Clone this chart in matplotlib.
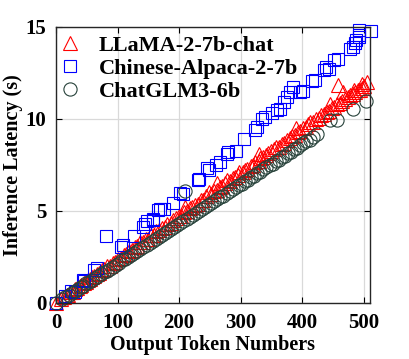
import matplotlib
matplotlib.use("Agg")
import matplotlib.pyplot as plt

# LLaMA-2-7b-chat
llamaX = [0, 8, 12, 17, 20, 24, 27, 31, 34, 38, 41, 45, 48, 52, 55, 59, 62, 66, 70, 74,
          78, 83, 87, 92, 96, 101, 105, 110, 114, 119, 123, 128, 132, 137, 141, 146, 150, 155, 159, 163,
          168, 172, 177, 181, 186, 190, 195, 199, 203, 208, 210, 212, 217, 221, 226, 230, 235, 239, 244, 248,
          252, 257, 261, 262, 266, 270, 274, 278, 283, 287, 291, 295, 298, 303, 307, 311, 316, 320, 324, 329,
          330, 332, 337, 341, 345, 350, 354, 358, 362, 367, 371, 375, 380, 384, 388, 390, 393, 397, 402, 406,
          410, 413, 418, 422, 427, 431, 435, 440, 444, 445, 448, 452, 456, 459, 461, 465, 467, 470, 474, 478,
          482, 485, 486, 490, 494, 497, 498, 501, 505]
llamaY = [0.0, 0.2, 0.3, 0.42, 0.45, 0.6, 0.62, 0.75, 0.8, 0.92, 0.98, 1.1, 1.12, 1.25, 1.3, 1.42, 1.45, 1.6, 1.65, 1.78,
          1.85, 2.0, 2.02, 2.2, 2.25, 2.4, 2.45, 2.6, 2.68, 2.85, 2.9, 3.05, 3.1, 3.3, 3.3, 3.45, 3.5, 3.7, 3.72, 3.9,
          3.95, 4.1, 4.15, 4.3, 4.35, 4.5, 4.6, 4.7, 4.75, 4.95, 5.2, 4.98, 5.15, 5.2, 5.35, 5.4, 5.6, 5.62, 5.8, 6.03,
          5.9, 6.1, 6.15, 6.5, 6.3, 6.35, 6.5, 6.67, 6.65, 6.8, 6.85, 6.95, 7.12, 7.1, 7.25, 7.3, 7.45, 7.5, 7.65, 7.72,
          8.1, 7.9, 7.95, 8.05, 8.15, 8.25, 8.35, 8.45, 8.5, 8.65, 8.72, 8.85, 8.95, 9.05, 9.12, 9.5, 9.3, 9.35, 9.5, 9.55,
          9.7, 9.84, 9.85, 10.0, 10.05, 10.2, 10.25, 10.4, 10.45, 10.8, 10.6, 10.65, 10.8, 11.83, 10.85, 11.0, 11.47, 11.1, 11.2, 11.3,
          11.35, 11.6, 11.45, 11.55, 11.6, 11.9, 11.7, 11.8, 12.0]

# Chinese-Alpaca-2-7b
alpacaX = [0, 15, 24, 30, 43, 46, 61, 67, 81, 105, 109, 127, 141, 144, 147, 157, 158, 166, 169, 175,
           190, 202, 206, 231, 233, 245, 249, 260, 266, 278, 280, 293, 305, 324, 326, 334, 340, 351, 359, 364,
           370, 375, 380, 385, 397, 402, 416, 421, 436, 439, 443, 451, 459, 477, 483, 486, 488, 492, 493, 493, 512]
alpacaY = [0.0, 0.40, 0.64, 0.60, 1.27, 1.20, 1.80, 1.92, 3.66, 3.05, 3.13, 3.62, 4.13, 4.31, 4.46, 4.57, 4.53, 5.04, 5.08, 5.08,
           5.43, 5.98, 5.91, 6.67, 6.72, 7.34, 7.21, 7.48, 7.66, 8.10, 8.20, 8.24, 8.90, 9.42, 9.57, 10.0, 10.1, 10.3, 10.47, 10.56,
           10.9, 11.2, 11.47, 11.74, 11.47, 11.5, 12.05, 12.1, 12.65, 12.8, 12.7, 13.19, 13.24, 13.8, 13.9, 14.1, 14.3, 14.46, 14.55, 14.86, 14.77]

# ChatGLM3-6b
glmX = [0, 10, 15, 21, 26, 30, 35, 40, 44, 49, 54, 58, 63, 68, 73, 77, 82, 87, 92, 97,
        102, 107, 112, 117, 122, 127, 132, 137, 142, 147, 152, 157, 162, 167, 172, 177, 182, 187, 192, 197,
        202, 207, 210, 212, 217, 222, 227, 232, 237, 242, 247, 252, 257, 262, 267, 272, 277, 282, 287, 292,
        297, 302, 307, 312, 317, 322, 327, 332, 337, 342, 347, 352, 357, 362, 367, 372, 377, 382, 387, 392,
        397, 402, 407, 412, 418, 424, 446, 456, 483, 504]
glmY = [0.0, 0.22, 0.3, 0.46, 0.55, 0.64, 0.74, 0.86, 0.94, 1.06, 1.14, 1.26, 1.34, 1.46, 1.55, 1.66, 1.74, 1.86, 1.97, 2.09,
        2.17, 2.31, 2.39, 2.51, 2.61, 2.73, 2.81, 2.96, 3.04, 3.16, 3.27, 3.39, 3.47, 3.61, 3.69, 3.81, 3.91, 4.03, 4.11, 4.26,
        4.34, 4.46, 6.07, 4.54, 4.69, 4.77, 4.89, 4.99, 5.11, 5.19, 5.33, 5.41, 5.53, 5.64, 5.76, 5.84, 5.99, 6.07, 6.19, 6.29,
        6.41, 6.49, 6.61, 6.71, 6.83, 6.91, 7.06, 7.14, 7.26, 7.37, 7.49, 7.57, 7.71, 7.79, 7.91, 8.01, 8.13, 8.21, 8.36, 8.44,
        8.56, 8.67, 8.79, 8.87, 9.01, 9.2, 9.97, 9.97, 10.56, 11.0]

plt.rcParams["font.family"] = ["Liberation Serif", "DejaVu Serif"]
plt.rcParams["font.weight"] = "bold"

fig = plt.figure(figsize=(4.10, 3.59), dpi=100)
ax = fig.add_axes([0.137, 0.156, 0.765, 0.769])

mk = dict(linestyle="none", markerfacecolor="none", markeredgewidth=0.8, clip_on=False)
ax.plot(llamaX, llamaY, marker="^", markersize=10, markeredgecolor="#ff0000", label="LLaMA-2-7b-chat", **mk)
ax.plot(alpacaX, alpacaY, marker="s", markersize=8.5, markeredgecolor="#0000ff", label="Chinese-Alpaca-2-7b", **mk)
ax.plot(glmX, glmY, marker="o", markersize=9.5, markeredgecolor="#27423a", label="ChatGLM3-6b", **mk)

ax.set_xlim(0, 510)
ax.set_ylim(0, 15)
ax.set_xticks([0, 100, 200, 300, 400, 500])
ax.set_yticks([0, 5, 10, 15])
ax.grid(True, color="#d9d9d9", linewidth=0.9)
ax.set_axisbelow(True)
ax.tick_params(direction="in", length=4, width=0.8, top=True, right=True, labelsize=15, pad=7)
for s in ax.spines.values():
    s.set_linewidth(1.0)
    s.set_color("#262626")

ax.set_xlabel("Output Token Numbers", fontsize=14.5, fontweight="bold", labelpad=2)
ax.set_ylabel("Inference Latency (s)", fontsize=14.5, fontweight="bold", labelpad=2)

leg = ax.legend(loc="upper left", bbox_to_anchor=(0.0, 0.985), frameon=False,
                handlelength=0.8, handletextpad=0.9, borderpad=0.2, borderaxespad=0.0,
                labelspacing=0.1, prop={"weight": "bold", "size": 16})

fig.savefig("out.png", dpi=100)
